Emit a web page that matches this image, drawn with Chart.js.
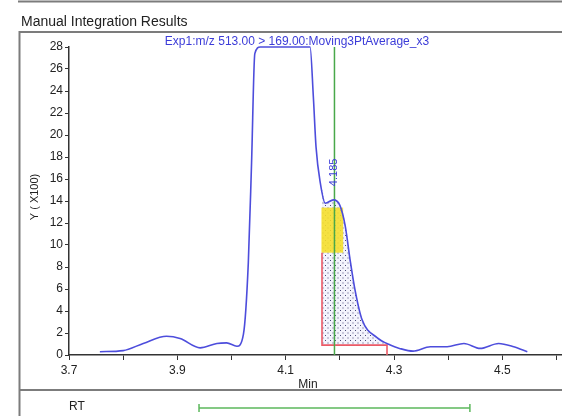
<!DOCTYPE html>
<html>
<head>
<meta charset="utf-8">
<title>Manual Integration Results</title>
<script src="https://cdn.jsdelivr.net/npm/chart.js@4.4.1/dist/chart.umd.min.js"></script>
<style>
  html, body { margin: 0; padding: 0; background: #fff; }
  canvas { display: block; }
</style>
</head>
<body>
<canvas id="chrom" width="562" height="416"></canvas>
<script>
// retention time (min) and intensity (x100)
const times = [3.757, 3.800, 3.837, 3.880, 3.905, 3.942, 3.973, 3.991, 4.010, 4.022,
               4.031, 4.037, 4.043, 4.053, 4.145, 4.151, 4.156, 4.164, 4.173, 4.188,
               4.200, 4.210, 4.219, 4.228, 4.241, 4.268, 4.293, 4.310, 4.335, 4.367,
               4.398, 4.429, 4.459, 4.493, 4.521, 4.546];
const counts = [0.3, 0.4, 1.05, 1.7, 1.5, 0.65, 1.05, 1.1, 0.8, 1.9,
                8.4, 17.5, 27.4, 28, 28, 23.5, 18.9, 15.6, 13.8, 14.1,
                13.6, 11.7, 8.6, 5.9, 3.2, 1.6, 0.9, 0.6, 0.35, 0.75,
                0.75, 1.05, 0.6, 1.05, 0.75, 0.3];

// manually integrated part of the peak (dotted area)
const areaTimes = [4.167, 4.173, 4.188, 4.200, 4.210, 4.219, 4.228, 4.241, 4.268, 4.287];
const areaCounts = [15.0, 13.8, 14.1, 13.6, 11.7, 8.6, 5.9, 3.2, 1.6, 1.0];
const baseline = 0.9;
const intStart = 4.167;
const intEnd = 4.287;
const intMarkTop = 9.3;

// apex marker and the yellow box
const apexTime = 4.19;
const apexLabel = '4.185';
const apexLabelAt = 16.6;
const boxTimes = [4.166, 4.206];
const boxCounts = [9.3, 13.4];

// RT window shown in the strip under the plot
const rtWindow = [3.94, 4.44];

const xTicks = [3.7, 3.8, 3.9, 4.0, 4.1, 4.2, 4.3, 4.4, 4.5, 4.6];
const xLabels = ['3.7', '', '3.9', '', '4.1', '', '4.3', '', '4.5', ''];

const FONT = "'Liberation Sans', Arial, sans-serif";
const BLUE = '#3c3cd8';

function dotPattern() {
    const p = document.createElement('canvas');
    p.width = 5;
    p.height = 5;
    const pc = p.getContext('2d');
    pc.fillStyle = 'rgba(235,235,250,0.6)';
    pc.fillRect(0, 0, 5, 5);
    pc.fillStyle = '#4a4a78';
    pc.fillRect(0, 0, 1, 1);
    pc.fillRect(2.5, 2.5, 1, 1);
    return document.getElementById('chrom').getContext('2d').createPattern(p, 'repeat');
}

const pts = (xs, ys) => xs.map((x, i) => ({ x: x, y: ys[i] }));

// frame, headings and the RT strip
const decor = {
    id: 'decor',
    beforeDraw(chart) {
        const c = chart.ctx;
        c.save();
        c.fillStyle = '#fff';
        c.fillRect(0, 0, chart.width, chart.height);
        c.strokeStyle = '#7c7c7c';
        c.lineWidth = 2;
        c.beginPath();
        c.moveTo(18, 1.5); c.lineTo(562, 1.5);
        c.moveTo(19.5, 416); c.lineTo(19.5, 32); c.lineTo(562, 32);
        c.moveTo(19.5, 390); c.lineTo(562, 390);
        c.stroke();

        c.fillStyle = '#222';
        c.font = '14px ' + FONT;
        c.textBaseline = 'alphabetic';
        c.fillText('Manual Integration Results', 21, 26);

        c.fillStyle = BLUE;
        c.font = '12px ' + FONT;
        c.textAlign = 'center';
        c.fillText('Exp1:m/z 513.00 > 169.00:Moving3PtAverage_x3', 297, 45);

        c.fillStyle = '#222';
        c.textBaseline = 'middle';
        c.fillText('Min', 308, 385);
        c.fillText('RT', 77, 407);

        c.save();
        c.translate(35, 197);
        c.rotate(-Math.PI / 2);
        c.font = '11px ' + FONT;
        c.fillText('Y ( X100)', 0, 0);
        c.restore();

        const x = chart.scales.x;
        const a = x.getPixelForValue(rtWindow[0]);
        const b = x.getPixelForValue(rtWindow[1]);
        c.strokeStyle = '#5cb85c';
        c.lineWidth = 1.5;
        c.beginPath();
        c.moveTo(a, 408); c.lineTo(b, 408);
        c.moveTo(a, 404); c.lineTo(a, 412);
        c.moveTo(b, 404); c.lineTo(b, 412);
        c.stroke();
        c.restore();
    },
    afterDatasetDraw(chart, args) {
        if (args.index !== 3) return;
        const x = chart.scales.x, y = chart.scales.y;
        const c = chart.ctx;
        const l = x.getPixelForValue(boxTimes[0]);
        const r = x.getPixelForValue(boxTimes[1]);
        const t = y.getPixelForValue(boxCounts[1]);
        const btm = y.getPixelForValue(boxCounts[0]);
        c.save();
        c.fillStyle = 'rgba(245,222,40,0.88)';
        c.fillRect(l, t, r - l, btm - t);
        c.restore();
    },
    afterDatasetsDraw(chart) {
        const x = chart.scales.x, y = chart.scales.y;
        const c = chart.ctx;
        c.save();
        c.translate(x.getPixelForValue(apexTime), y.getPixelForValue(apexLabelAt));
        c.rotate(-Math.PI / 2);
        c.fillStyle = BLUE;
        c.font = '11px ' + FONT;
        c.textAlign = 'center';
        c.textBaseline = 'middle';
        c.fillText(apexLabel, 0, 0);
        c.restore();
    }
};

new Chart(document.getElementById('chrom'), {
    type: 'line',
    data: {
        datasets: [
            {
                data: pts(times, counts),
                borderColor: '#4d4ddc',
                borderWidth: 1.6,
                pointRadius: 0,
                cubicInterpolationMode: 'monotone',
                fill: false,
                clip: 4
            },
            {
                data: [{ x: apexTime, y: 0 }, { x: apexTime, y: 28 }],
                borderColor: '#49a84a',
                borderWidth: 1.5,
                pointRadius: 0,
                fill: false
            },
            {
                data: [{ x: intStart, y: intMarkTop }, { x: intStart, y: baseline },
                       { x: intEnd, y: baseline }, { x: intEnd, y: 0 }],
                borderColor: '#ec5a66',
                borderWidth: 1.6,
                pointRadius: 0,
                tension: 0,
                fill: false
            },
            {
                data: pts(areaTimes, areaCounts),
                borderColor: 'rgba(120,120,200,0.5)',
                borderWidth: 0.8,
                borderDash: [1, 2],
                backgroundColor: dotPattern(),
                pointRadius: 0,
                cubicInterpolationMode: 'monotone',
                fill: { value: baseline }
            }
        ]
    },
    options: {
        responsive: false,
        animation: false,
        events: [],
        layout: { padding: { top: 47, left: 0, right: 0, bottom: 0 } },
        plugins: {
            legend: { display: false },
            tooltip: { enabled: false }
        },
        scales: {
            x: {
                type: 'linear',
                min: 3.7,
                max: 4.61,
                afterFit(s) { s.height = 61; },
                afterBuildTicks(s) { s.ticks = xTicks.map(v => ({ value: v })); },
                border: { color: '#333', width: 1.5 },
                grid: { drawOnChartArea: false, tickLength: 5, color: '#333' },
                ticks: {
                    autoSkip: false,
                    maxRotation: 0,
                    padding: 3,
                    color: '#222',
                    font: { family: FONT, size: 12 },
                    callback: (v, i) => xLabels[i]
                }
            },
            y: {
                min: 0,
                max: 28,
                afterFit(s) { s.width = 69; },
                border: { color: '#333', width: 1.5 },
                grid: { drawOnChartArea: false, tickLength: 4, color: '#333' },
                ticks: {
                    stepSize: 2,
                    padding: 2,
                    color: '#222',
                    font: { family: FONT, size: 12 }
                }
            }
        }
    },
    plugins: [decor]
});
</script>
</body>
</html>
